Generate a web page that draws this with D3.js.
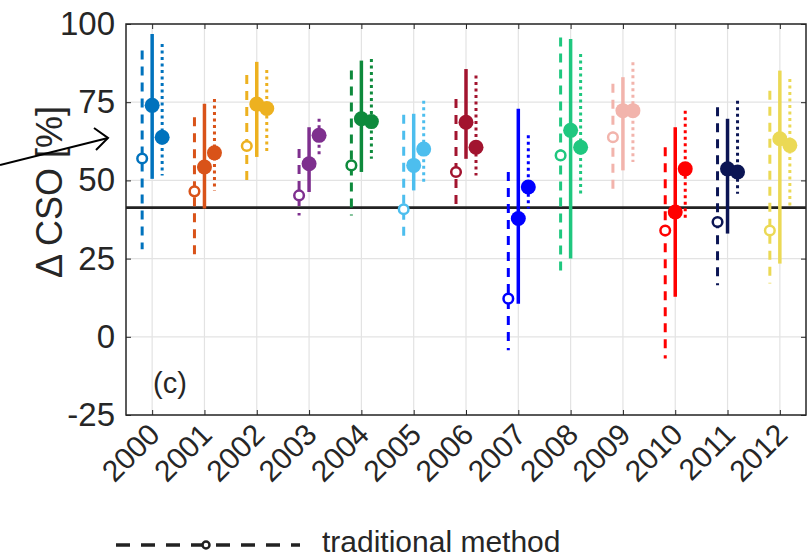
<!DOCTYPE html>
<html>
<head>
<meta charset="utf-8">
<script src="https://cdn.jsdelivr.net/npm/d3@7"></script>
<style>
  body { margin: 0; background: #fff; }
  svg { display: block; font-family: "Liberation Sans", Arial, sans-serif; }
</style>
</head>
<body>
<div id="chart"></div>
<script>
var years = [2000, 2001, 2002, 2003, 2004, 2005, 2006, 2007, 2008, 2009, 2010, 2011, 2012];
var yearColors = ['#0072BD', '#D95319', '#EDB120', '#7E2F8E', '#0E8A3C', '#4DBEEE', '#A2142F',
  '#0000FF', '#1FC77F', '#F2B4AC', '#FF0000', '#0B1554', '#EBD955'];

// traditional method (dashed, open marker)
var tradMid = [57, 46.5, 61, 45.2, 54.8, 40.8, 52.7, 12.2, 58, 63.8, 34, 36.7, 34];
var tradLow = [28, 25.2, 48.5, 38.8, 38.8, 30.9, 40.4, -4.3, 19.1, 45.7, -6.9, 16.5, 17];
var tradHigh = [91.5, 70.2, 83.7, 60, 85.1, 71, 76, 52.7, 95.7, 80.9, 60.6, 73.4, 78.7];

// solid line, filled marker
var solidMid = [74, 54.3, 74.4, 55.3, 69.7, 54.8, 68.6, 37.8, 66, 72.3, 39.9, 53.7, 63.3];
var solidLow = [50.5, 41, 57.5, 46.3, 52.7, 46.8, 56.9, 10.6, 25, 53.2, 12.8, 33, 23.4];
var solidHigh = [96.8, 74.5, 87.9, 67, 88.3, 71.3, 85.6, 72.9, 95.2, 83, 67, 69.7, 85.1];

// dotted line, filled marker
var dotMid = [63.8, 58.8, 73, 64.4, 68.8, 60, 60.6, 47.9, 60.6, 72.3, 53.7, 52.7, 61.2];
var dotLow = [51.6, 46.8, 58.7, 58, 56.9, 48.9, 51.6, 41, 44.7, 55.9, 37.8, 45.7, 42];
var dotHigh = [93.6, 76, 85.3, 69.7, 88.8, 75.5, 83.5, 64.4, 90.4, 87.8, 72.3, 75.5, 82.4];

var refLine = 41.3;
var yTicks = [-25, 0, 25, 50, 75, 100];

(function() {
  "use strict";

  var width = 807,
    height = 559,
    plotLeft = 126,
    plotRight = 806,
    plotTop = 24,
    plotBottom = 415;

  var axisColor = '#262626';

  var svg = d3.select('#chart')
    .append('svg')
    .attr('width', width)
    .attr('height', height);

  var x = d3.scaleLinear().domain([1999.5, 2012.5]).range([plotLeft, plotRight]);
  var y = d3.scaleLinear().domain([-25, 100]).range([plotBottom, plotTop]);

  // grid
  var grid = svg.append('g');
  grid.selectAll('.gx')
    .data(years)
    .enter().append('line')
    .attr('x1', function(d) { return x(d); })
    .attr('x2', function(d) { return x(d); })
    .attr('y1', plotTop)
    .attr('y2', plotBottom)
    .attr('stroke', '#e3e3e3')
    .attr('stroke-width', 1.2);
  grid.selectAll('.gy')
    .data(yTicks)
    .enter().append('line')
    .attr('x1', plotLeft)
    .attr('x2', plotRight)
    .attr('y1', function(d) { return y(d); })
    .attr('y2', function(d) { return y(d); })
    .attr('stroke', '#e3e3e3')
    .attr('stroke-width', 1.2);

  // reference line
  svg.append('line')
    .attr('x1', plotLeft)
    .attr('x2', plotRight)
    .attr('y1', y(refLine))
    .attr('y2', y(refLine))
    .attr('stroke', '#222')
    .attr('stroke-width', 2.8);

  // 3 estimates per year, offset left / centre / right
  var series = [
    { off: -10, mid: tradMid, low: tradLow, high: tradHigh, dash: '9,7', w: 3, open: true },
    { off: 0, mid: solidMid, low: solidLow, high: solidHigh, dash: null, w: 3.5, open: false },
    { off: 10, mid: dotMid, low: dotLow, high: dotHigh, dash: '3,3.5', w: 3, open: false }
  ];

  var marks = svg.append('g');
  series.forEach(function(s) {
    marks.append('g').selectAll('line')
      .data(years)
      .enter().append('line')
      .attr('x1', function(d) { return x(d) + s.off; })
      .attr('x2', function(d) { return x(d) + s.off; })
      .attr('y1', function(d, i) { return y(s.high[i]); })
      .attr('y2', function(d, i) { return y(s.low[i]); })
      .attr('stroke', function(d, i) { return yearColors[i]; })
      .attr('stroke-width', s.w)
      .attr('stroke-dasharray', s.dash);
  });
  series.forEach(function(s) {
    marks.append('g').selectAll('circle')
      .data(years)
      .enter().append('circle')
      .attr('cx', function(d) { return x(d) + s.off; })
      .attr('cy', function(d, i) { return y(s.mid[i]); })
      .attr('r', s.open ? 4.8 : 7.5)
      .attr('fill', function(d, i) { return s.open ? '#fff' : yearColors[i]; })
      .attr('stroke', function(d, i) { return yearColors[i]; })
      .attr('stroke-width', s.open ? 2.5 : 0);
  });

  // axes box
  svg.append('rect')
    .attr('x', plotLeft)
    .attr('y', plotTop)
    .attr('width', plotRight - plotLeft)
    .attr('height', plotBottom - plotTop)
    .attr('fill', 'none')
    .attr('stroke', axisColor)
    .attr('stroke-width', 1.5);

  var styleTicks = function(g) {
    g.select('.domain').remove();
    g.selectAll('line').attr('stroke', axisColor);
  };

  svg.append('g')
    .attr('transform', 'translate(0,' + plotBottom + ')')
    .call(d3.axisBottom(x).tickValues(years).tickSize(-5).tickFormat(''))
    .call(styleTicks);
  svg.append('g')
    .attr('transform', 'translate(0,' + plotTop + ')')
    .call(d3.axisTop(x).tickValues(years).tickSize(-5).tickFormat(''))
    .call(styleTicks);

  // plain hyphen for negatives, like the original
  svg.append('g')
    .attr('transform', 'translate(' + plotLeft + ',0)')
    .call(d3.axisLeft(y).tickValues(yTicks).tickSize(-5).tickPadding(11)
      .tickFormat(function(d) { return String(d); }))
    .call(styleTicks)
    .call(function(g) {
      g.selectAll('text')
        .attr('font-size', 33)
        .attr('fill', axisColor)
        .attr('font-family', '"Liberation Sans", Arial, sans-serif');
    });
  svg.append('g')
    .attr('transform', 'translate(' + plotRight + ',0)')
    .call(d3.axisRight(y).tickValues(yTicks).tickSize(-5).tickFormat(''))
    .call(styleTicks);

  // rotated year labels
  svg.append('g').selectAll('text')
    .data(years)
    .enter().append('text')
    .attr('transform', function(d) { return 'translate(' + (x(d) + 2) + ',' + (plotBottom + 14) + ') rotate(-45)'; })
    .attr('text-anchor', 'end')
    .attr('dy', '0.35em')
    .attr('font-size', 30)
    .attr('fill', axisColor)
    .text(function(d) { return d; });

  // y label
  svg.append('text')
    .attr('transform', 'translate(62,192) rotate(-90)')
    .attr('text-anchor', 'middle')
    .attr('font-size', 36)
    .attr('fill', axisColor)
    .text('\u0394 CSO [%]');

  // panel tag
  svg.append('text')
    .attr('x', 153)
    .attr('y', 393)
    .attr('font-size', 29)
    .attr('fill', axisColor)
    .text('(c)');

  // arrow
  svg.append('line')
    .attr('x1', 0).attr('y1', 165)
    .attr('x2', 108).attr('y2', 138)
    .attr('stroke', '#000')
    .attr('stroke-width', 2);
  svg.append('path')
    .attr('d', 'M94,128 L108,138 L96,150')
    .attr('fill', 'none')
    .attr('stroke', '#000')
    .attr('stroke-width', 2);

  // legend
  var legend = svg.append('g');
  legend.append('line')
    .attr('x1', 116).attr('x2', 300)
    .attr('y1', 545).attr('y2', 545)
    .attr('stroke', '#222')
    .attr('stroke-width', 3.5)
    .attr('stroke-dasharray', '14,11');
  legend.append('circle')
    .attr('cx', 206).attr('cy', 545)
    .attr('r', 3.5)
    .attr('fill', '#fff')
    .attr('stroke', '#222')
    .attr('stroke-width', 2.5);
  legend.append('text')
    .attr('x', 322)
    .attr('y', 552)
    .attr('font-size', 30)
    .attr('fill', axisColor)
    .text('traditional method');
})();
</script>
</body>
</html>
